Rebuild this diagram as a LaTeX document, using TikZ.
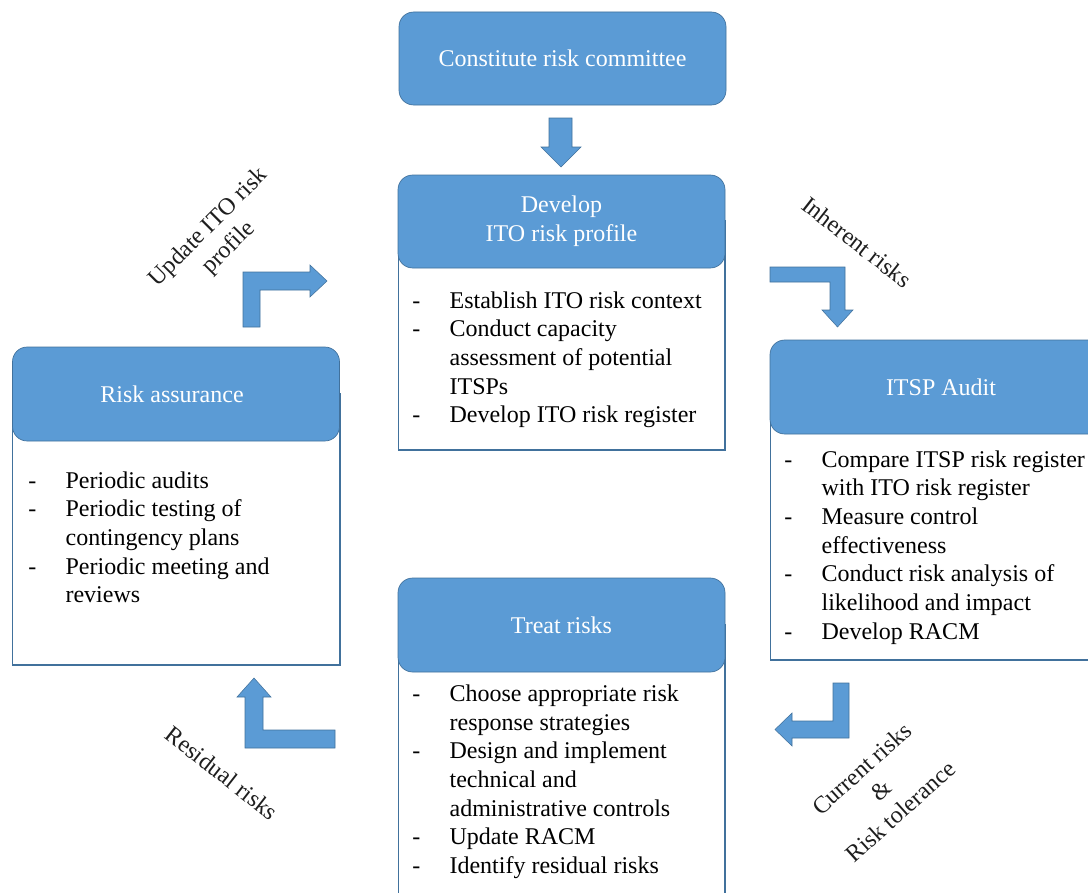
\documentclass[tikz,border=0pt]{standalone}
\usepackage{fontspec}
\setmainfont{Liberation Serif}
\definecolor{boxblue}{RGB}{91,155,213}
\definecolor{edgeblue}{RGB}{65,113,156}
\definecolor{labelgray}{RGB}{30,30,30}
\newcommand\bul{\makebox[28pt][l]{-}}

\begin{document}
\begin{tikzpicture}[x=0.75pt,y=-0.75pt,
  header/.style={draw=edgeblue, line width=0.5pt, fill=boxblue, rounded corners=11pt,
    text=white, align=center, font=\fontsize{18}{21.5}\selectfont, inner sep=0pt},
  bodybox/.style={draw=edgeblue, line width=0.9pt, fill=white},
  items/.style={anchor=base west, inner sep=0pt, font=\fontsize{18}{21.5}\selectfont},
  blockarrow/.style={fill=boxblue, draw=edgeblue, line width=0.4pt},
  flowlabel/.style={font=\fontsize{18}{21.5}\selectfont, align=center, text=labelgray, inner sep=0pt}
]
\path[use as bounding box] (0,0) rectangle (1088,892);
\clip (0,0) rectangle (1088,892);

% ---- Constitute risk committee ----
\node[header, minimum width=245.25pt, minimum height=69.75pt] (committee) at (562.5,58.5)
  {Constitute risk committee};

% ---- Develop ITO risk profile ----
\draw[bodybox] (398.5,221) rectangle (725,450);
\node[header, minimum width=245.25pt, minimum height=69.75pt] (develop) at (561.5,221.5)
  {Develop\\ITO risk profile};
\node[items] (devlist) at (412,308) {\begin{tabular}[t]{@{}l@{}l@{}}
  \bul & Establish ITO risk context\\
  \bul & Conduct capacity\\
       & assessment of potential\\
       & ITSPs\\
  \bul & Develop ITO risk register
\end{tabular}};

% ---- ITSP Audit ----
\draw[bodybox] (770.5,387) rectangle (1112,660);
\node[header, minimum width=256.5pt, minimum height=70.5pt] (audit) at (941,387)
  {ITSP Audit};
\node[items] (auditlist) at (784,467) {\begin{tabular}[t]{@{}l@{}l@{}}
  \bul & Compare ITSP risk register\\
       & with ITO risk register\\
  \bul & Measure control\\
       & effectiveness\\
  \bul & Conduct risk analysis of\\
       & likelihood and impact\\
  \bul & Develop RACM
\end{tabular}};

% ---- Risk assurance ----
\draw[bodybox] (12.5,394) rectangle (340,665);
\node[header, minimum width=245.25pt, minimum height=70.5pt] (assurance) at (176,394)
  {\hspace*{-6pt}Risk assurance};
\node[items] (assurancelist) at (28,488) {\begin{tabular}[t]{@{}l@{}l@{}}
  \bul & Periodic audits\\
  \bul & Periodic testing of\\
       & contingency plans\\
  \bul & Periodic meeting and\\
       & reviews
\end{tabular}};

% ---- Treat risks ----
\draw[bodybox] (398.5,625) rectangle (725,910);
\node[header, minimum width=245.25pt, minimum height=70.5pt] (treat) at (561.5,625)
  {Treat risks};
\node[items] (treatlist) at (412,701.5) {\begin{tabular}[t]{@{}l@{}l@{}}
  \bul & Choose appropriate risk\\
       & response strategies\\
  \bul & Design and implement\\
       & technical and\\
       & administrative controls\\
  \bul & Update RACM\\
  \bul & Identify residual risks
\end{tabular}};

% ---- block arrows ----
% committee -> develop
\draw[blockarrow] (549,118) -- (572,118) -- (572,147) -- (581,147) -- (561,167)
  -- (541,147) -- (549,147) -- cycle;
% develop -> audit (inherent risks)
\draw[blockarrow] (770,267) -- (845,267) -- (845,310) -- (853,310) -- (837.5,327)
  -- (822,310) -- (830,310) -- (830,282) -- (770,282) -- cycle;
% audit -> treat (current risks)
\draw[blockarrow] (833,683) -- (849,683) -- (849,738) -- (792,738) -- (792,746)
  -- (775,729.5) -- (792,713) -- (792,721) -- (833,721) -- cycle;
% treat -> assurance (residual risks)
\draw[blockarrow] (335,730) -- (335,748) -- (245,748) -- (245,697) -- (237,697)
  -- (254,678) -- (271,697) -- (263,697) -- (263,730) -- cycle;
% assurance -> develop (update profile)
\draw[blockarrow] (243,327) -- (243,272) -- (310,272) -- (310,265) -- (327,281)
  -- (310,297) -- (310,290) -- (260,290) -- (260,327) -- cycle;

% ---- arrow labels ----
\node[flowlabel, rotate=45] (lblupdate) at (219,238) {Update ITO risk\\profile};
\node[flowlabel, rotate=-38] (lblinherent) at (857,242) {Inherent risks};
\node[flowlabel, rotate=-38] (lblresidual) at (222,773) {Residual risks};
\node[flowlabel, rotate=42] (lblcurrent) at (881,790) {Current risks\\\&\\Risk tolerance};
\end{tikzpicture}
\end{document}
